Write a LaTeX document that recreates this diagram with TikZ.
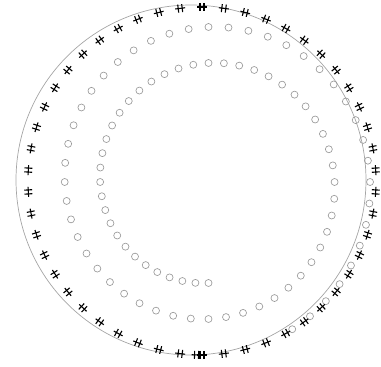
\documentclass[tikz,border=0pt]{standalone}
\begin{document}
\begin{tikzpicture}[x=1pt,y=1pt,
  ring/.style={draw=black!40, line width=0.65pt},
  guide/.style={draw=black!35, line width=0.7pt},
  markline/.style={draw=black, line width=1.1pt}]
\useasboundingbox (0,0) rectangle (381,367);
% guide circle
\draw[guide] (191,187) circle (175);
% spiral of small circles
\foreach \t in {0,7.5,...,690}{
  \pgfmathsetmacro{\r}{101+0.1*\t}
  \pgfmathsetmacro{\px}{208.5-0.985*\r*sin(\t)}
  \pgfmathsetmacro{\py}{185-\r*cos(\t)}
  \draw[ring] (\px,\py) circle (3.5);
}
% markers along the outer circle
\foreach \a in {3.6,10.8,...,356.4, 268.2}{
  \begin{scope}[shift={(202,186)}, shift={(\a:174)}, rotate=\a]
    \draw[markline] (0,-5) -- (0,5);
    \draw[markline] (-4,-2) -- (4,-2);
    \draw[markline] (-4,2) -- (4,2);
  \end{scope}
}
\end{tikzpicture}
\end{document}
